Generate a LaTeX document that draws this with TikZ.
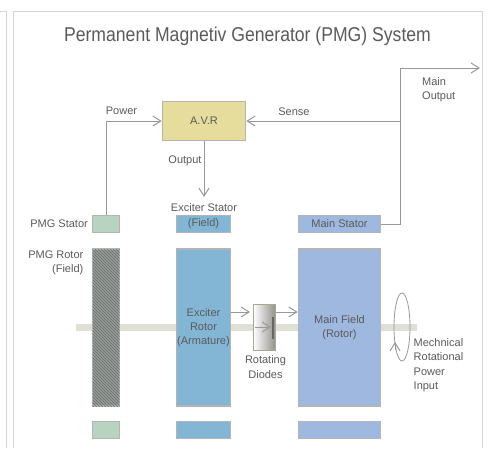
\documentclass[tikz,border=0pt]{standalone}
\usepackage{fontspec}
\usepackage{xcolor}
\setmainfont{Liberation Sans}
\newfontfamily\titlefont[FakeStretch=0.88]{Liberation Sans}
\usetikzlibrary{arrows.meta,shapes.geometric,patterns}

\definecolor{framegray}{HTML}{D4D4D4}
\definecolor{boxgray}{HTML}{B4B4B4}
\definecolor{linegray}{HTML}{989898}
\definecolor{textgray}{HTML}{5A5A5A}
\definecolor{shaftgray}{HTML}{E0DFD6}
\definecolor{avrfill}{HTML}{E6DD9C}
\definecolor{pmgfill}{HTML}{B8D3BF}
\definecolor{exciterfill}{HTML}{83B6D5}
\definecolor{mainfill}{HTML}{9FB8DF}
\definecolor{hatchfill}{HTML}{959C98}
\definecolor{hatchline}{HTML}{6A706C}

\begin{document}
\begin{tikzpicture}[x=1pt,y=-1pt,
    >={Straight Barb[length=8pt,width=10pt]},
    block/.style={shape=rectangle, draw=boxgray, line width=1.6pt, inner sep=0pt, align=center,
      text=textgray, font=\fontsize{11}{14.3}\selectfont},
    caption/.style={inner sep=0pt, text=textgray, font=\fontsize{11}{14.3}\selectfont},
    conn/.style={draw=linegray, line width=1pt}]
    \useasboundingbox (0,0) rectangle (488,448);

    % frames
    \draw[framegray,line width=1pt] (0,11) -- (6.5,11) -- (6.5,448);
    \draw[framegray,line width=1pt] (13.5,448) -- (13.5,11) -- (482,11) -- (482,448);

    \node[caption,font=\titlefont\fontsize{20}{24}\selectfont] (title) at (247.5,36) {Permanent Magnetiv Generator (PMG) System};

    % shaft
    \fill[shaftgray] (76,324) rectangle (417,331);

    % top row
    \node[block,fill=avrfill,minimum width=83,minimum height=39] (avr) at (204,121) {A.V.R};
    \node[block,fill=pmgfill,minimum width=27,minimum height=17] (pmgstator) at (106,224) {};
    \node[block,fill=exciterfill,minimum width=54,minimum height=17] (exciterstator) at (203.5,224) {(Field)};
    \node[block,fill=mainfill,minimum width=82,minimum height=17] (mainstator) at (339.5,224) {Main Stator};

    % rotors
    \node[block,fill=hatchfill,postaction={pattern=north west lines,pattern color=hatchline},minimum width=27,minimum height=157] (pmgrotor) at (106,327.5) {};
    \node[block,fill=exciterfill,minimum width=54,minimum height=157] (exciterrotor) at (203.5,327.5) {Exciter\\Rotor\\(Armature)};
    \node[block,fill=mainfill,minimum width=82,minimum height=157] (mainfield) at (339.5,327.5) {Main Field\\(Rotor)};

    % bottom row
    \node[block,fill=pmgfill,minimum width=27,minimum height=17] (pmgbottom) at (106,430) {};
    \node[block,fill=exciterfill,minimum width=54,minimum height=17] (exciterbottom) at (203.5,430) {};
    \node[block,fill=mainfill,minimum width=82,minimum height=17] (mainbottom) at (339.5,430) {};

    % diodes
    \node[shape=rectangle,draw=boxgray!80!olive,line width=1pt,left color=white,right color=black!35!shaftgray,
      minimum width=22,minimum height=46] (diodes) at (264.5,327.5) {};
    \coordinate (diodein) at (250,312);
    \coordinate (diodeout) at (276,312);
    \coordinate (diodebartop) at (273,317);
    \coordinate (diodebarbot) at (273,339);
    \coordinate (diodearrow) at (255,327);
    \coordinate (diodearrowtip) at (271,327);
    \draw[conn,->] (diodearrow) -- (diodearrowtip);
    \draw[black!60,line width=1.8pt] (diodebartop) -- (diodebarbot);
    \draw[conn,->] (diodein -| exciterrotor.east) -- (diodein);
    \draw[conn,->] (diodeout) -- (diodeout -| mainfield.west);

    % connectors
    \coordinate (sensejoin) at (400,121);
    \coordinate (maintop) at (400,68);
    \coordinate (mainend) at (480,68);
    \coordinate (outputend) at (204,197);
    \draw[conn,->] (pmgstator.north) |- (avr.west);
    \draw[conn,->] (avr.south) -- (outputend);
    \draw[conn,->] (sensejoin) -- (avr.east);
    \draw[conn] (mainstator.east) -| (maintop);
    \draw[conn,->] (maintop) -- (mainend);

    % rotation input
    \node[shape=ellipse,draw=linegray,line width=0.8pt,inner sep=0pt,minimum width=16,minimum height=68] (rotation) at (402,327) {};
    \coordinate (rotationfrom) at (395,350);
    \coordinate (rotationtip) at (395,342);
    \draw[conn,->] (rotationfrom) -- (rotationtip);

    % labels
    \node[caption] (powerlabel) at (121.5,110.5) {Power};
    \node[caption] (outputlabel) at (185,160.5) {Output};
    \node[caption] (senselabel) at (294,111.5) {Sense};
    \node[caption,align=left,anchor=west] (mainoutlabel) at (422,90) {Main\\Output};
    \node[caption] (exciterlabel) at (204,208) {Exciter Stator};
    \node[caption,anchor=east] (pmgstatorlabel) at (88,224) {PMG Stator};
    \node[caption,align=right,anchor=east] (pmgrotorlabel) at (83.5,263) {PMG Rotor\\(Field)};
    \node[caption,align=center] (diodelabel) at (265.5,367) {Rotating\\Diodes};
    \node[caption,align=left,anchor=west] (mechlabel) at (413.5,365) {Mechnical\\Rotational\\Power\\Input};
\end{tikzpicture}
\end{document}
